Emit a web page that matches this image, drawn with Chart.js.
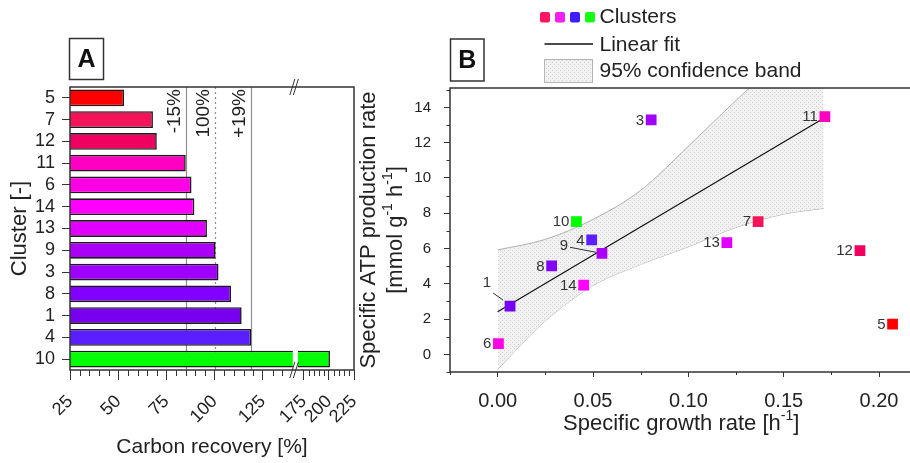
<!DOCTYPE html>
<html>
<head>
<meta charset="utf-8">
<script src="https://cdn.jsdelivr.net/npm/chart.js@4.4.0/dist/chart.umd.min.js"></script>
<style>
  html, body { margin: 0; padding: 0; background: #fff; overflow: hidden; }
  #wrap { position: relative; width: 910px; height: 463px; overflow: hidden; }
  #recoveryChart { position: absolute; left: 0; top: 0; }
  #atpChart { position: absolute; left: 350px; top: 0; }
</style>
</head>
<body>
<div id="wrap">
  <canvas id="recoveryChart" width="370" height="463"></canvas>
  <canvas id="atpChart" width="570" height="463"></canvas>
</div>
<script>
const FONT = "'Liberation Sans', Arial, sans-serif";
Chart.defaults.font.family = FONT;
Chart.defaults.color = '#222';

// --- panel A: carbon recovery per cluster, top to bottom
const recoveryClusters = ['5', '7', '12', '11', '6', '14', '13', '9', '3', '8', '1', '4', '10'];
const carbonRecovery = [53, 68, 70, 85, 88, 89.5, 96, 100.5, 102, 108.5, 114, 119, 201];
const recoveryTicks = [25, 50, 75, 100, 125, 175, 200, 225];
const refLines = [85, 100, 119];
const refLabels = ['-15%', '100%', '+19%'];

// --- panel B: ATP production vs growth rate
const pointClusters = ['1', '3', '4', '5', '6', '7', '8', '9', '10', '11', '12', '13', '14'];
const growthRate = [0.0065, 0.0805, 0.0493, 0.2071, 0.0004, 0.1366, 0.0283, 0.0547, 0.0413, 0.1716, 0.190, 0.1202, 0.0451];
const atpRate = [2.74, 13.29, 6.49, 1.71, 0.61, 7.52, 5.01, 5.73, 7.52, 13.48, 5.88, 6.33, 3.93];
const fitGrowth = [0, 0.171];
const fitAtp = [2.42, 13.38];
const bandGrowth = [0, 0.025, 0.05, 0.075, 0.1, 0.125, 0.15, 0.171];
const bandUpper = [5.92, 6.52, 7.65, 9.3, 11.8, 14.4, 16.9, 19.0];
const bandLower = [-0.85, 1.9, 3.9, 5.1, 6.1, 7.2, 7.95, 8.28];
const growthTicks = [0, 0.05, 0.1, 0.15, 0.2];
const atpTicks = [0, 2, 4, 6, 8, 10, 12, 14];

const clusterColours = {
  '5': '#ff0000', '7': '#f5145a', '12': '#f0005f', '11': '#ff00c3', '6': '#ff00e6',
  '14': '#ff00ff', '13': '#e100ff', '9': '#aa00f5', '3': '#a000ff', '8': '#8200ff',
  '1': '#7800f0', '4': '#5a1eff', '10': '#00ff00'
};
const legendSwatches = ['#ff1464', '#f01ef0', '#3c1eff', '#14ff14'];

// linear axis with a cut between `from` and `to`
class GapLinearScale extends Chart.LinearScale {
  static id = 'gapLinear';
  static defaults = {};
  fraction(v) {
    const g = this.options.gap;
    if (v <= g.from) return (v - this.min) / (g.from - this.min) * g.fromFrac;
    if (v >= g.to) return g.toFrac + (v - g.to) / (this.max - g.to) * (1 - g.toFrac);
    return g.fromFrac + (v - g.from) / (g.to - g.from) * (g.toFrac - g.fromFrac);
  }
  getPixelForValue(v) {
    return v === null ? NaN : this.getPixelForDecimal(this.fraction(v));
  }
  getValueForPixel(p) {
    const g = this.options.gap;
    const f = this.getDecimalForPixel(p);
    if (f <= g.fromFrac) return this.min + f / g.fromFrac * (g.from - this.min);
    if (f >= g.toFrac) return g.to + (f - g.toFrac) / (1 - g.toFrac) * (this.max - g.to);
    return g.from + (f - g.fromFrac) / (g.toFrac - g.fromFrac) * (g.to - g.from);
  }
}
Chart.register(GapLinearScale);

function minorTicks(ctx, scale, values, len) {
  ctx.save();
  ctx.strokeStyle = '#333';
  ctx.lineWidth = 1;
  values.forEach(v => {
    const p = Math.round(scale.getPixelForValue(v)) + 0.5;
    ctx.beginPath();
    if (scale.isHorizontal()) { ctx.moveTo(p, scale.top); ctx.lineTo(p, scale.top + len); }
    else { ctx.moveTo(scale.right, p); ctx.lineTo(scale.right - len, p); }
    ctx.stroke();
  });
  ctx.restore();
}

function letterBox(ctx, letter, x, y, w, h) {
  ctx.save();
  ctx.strokeStyle = '#333';
  ctx.lineWidth = 1.5;
  ctx.strokeRect(x, y, w, h);
  ctx.fillStyle = '#111';
  ctx.font = `bold 25px ${FONT}`;
  ctx.textAlign = 'center';
  ctx.textBaseline = 'middle';
  ctx.fillText(letter, x + w / 2, y + h / 2 + 1);
  ctx.restore();
}

// text with superscript pieces, e.g. h^-1
function richText(ctx, parts, x, y, size) {
  const big = `${size}px ${FONT}`, small = `${Math.round(size * 0.62)}px ${FONT}`;
  let total = 0;
  parts.forEach(p => { ctx.font = p.sup ? small : big; total += ctx.measureText(p.text).width; });
  let cx = x - total / 2;
  ctx.textAlign = 'left';
  ctx.textBaseline = 'middle';
  parts.forEach(p => {
    ctx.font = p.sup ? small : big;
    ctx.fillText(p.text, cx, p.sup ? y - size * 0.36 : y);
    cx += ctx.measureText(p.text).width;
  });
}

function stipple(ctx) {
  const c = document.createElement('canvas');
  c.width = c.height = 4;
  const g = c.getContext('2d');
  g.fillStyle = '#f1f1f1';
  g.fillRect(0, 0, 4, 4);
  g.fillStyle = '#d2d2d2';
  g.fillRect(0, 0, 1, 1);
  g.fillRect(2, 2, 1, 1);
  return ctx.createPattern(c, 'repeat');
}

// ---------- panel A ----------
const recoveryGap = { from: 140, to: 170, fromFrac: 0.781, toFrac: 0.806 };
const refDash = [[], [2, 3], []];

const recoveryDecor = {
  id: 'recoveryDecor',
  beforeDatasetsDraw(chart) {
    const { ctx, chartArea: a, scales: { x } } = chart;
    ctx.save();
    refLines.forEach((v, i) => {
      const px = Math.round(x.getPixelForValue(v)) + 0.5;
      ctx.strokeStyle = '#8e8e8e';
      ctx.lineWidth = 1.2;
      ctx.setLineDash(refDash[i]);
      ctx.beginPath();
      ctx.moveTo(px, a.top);
      ctx.lineTo(px, a.bottom);
      ctx.stroke();
      ctx.setLineDash([]);
      ctx.save();
      ctx.translate(px - 12, a.top + 2);
      ctx.rotate(-Math.PI / 2);
      ctx.fillStyle = '#222';
      ctx.font = `19px ${FONT}`;
      ctx.textAlign = 'right';
      ctx.textBaseline = 'middle';
      ctx.fillText(refLabels[i], 0, 0);
      ctx.restore();
    });
    ctx.restore();
  },
  afterDatasetsDraw(chart) {
    const { ctx, chartArea: a, scales: { x } } = chart;
    const g0 = x.getPixelForValue(recoveryGap.from), g1 = x.getPixelForValue(recoveryGap.to);
    const gx = (g0 + g1) / 2;
    ctx.save();
    // cut through bars that cross the axis break
    chart.getDatasetMeta(0).data.forEach((bar, i) => {
      if (carbonRecovery[i] > recoveryGap.from) {
        ctx.fillStyle = '#fff';
        ctx.fillRect(g0 + 1, bar.y - bar.height / 2 - 1, g1 - g0 - 2, bar.height + 2);
      }
    });
    ctx.strokeStyle = '#333';
    ctx.lineWidth = 1.5;
    ctx.strokeRect(a.left, a.top, a.width, a.height);
    // break marks
    ctx.lineWidth = 1;
    [a.top, a.bottom].forEach(yy => {
      [-3, 0.5].forEach(d => {
        ctx.beginPath();
        ctx.moveTo(gx + d - 2.5, yy + 8);
        ctx.lineTo(gx + d + 2.5, yy - 8);
        ctx.stroke();
      });
    });
    ctx.restore();
    const minor = [];
    for (let v = 30; v < 225; v += 5) {
      if (recoveryTicks.includes(v)) continue;
      if (v >= recoveryGap.from && v <= recoveryGap.to) continue;
      minor.push(v);
    }
    minorTicks(ctx, x, minor, 6);
  },
  afterDraw(chart) {
    letterBox(chart.ctx, 'A', 69.5, 38.5, 34, 41);
  }
};

new Chart(document.getElementById('recoveryChart'), {
  type: 'bar',
  data: {
    labels: recoveryClusters,
    datasets: [{
      data: carbonRecovery,
      backgroundColor: recoveryClusters.map(c => clusterColours[c]),
      borderColor: '#1a1a1a',
      borderWidth: 1.6,
      borderSkipped: false,
      barPercentage: 0.77,
      categoryPercentage: 1
    }]
  },
  options: {
    indexAxis: 'y',
    responsive: false,
    animation: false,
    layout: { padding: { top: 87, right: 16, left: 0, bottom: 0 } },
    plugins: { legend: { display: false }, tooltip: { enabled: false } },
    scales: {
      x: {
        type: 'gapLinear',
        min: 25,
        max: 225,
        gap: recoveryGap,
        afterFit: s => { s.height = 93; s.paddingLeft = 0; s.paddingRight = 0; },
        afterBuildTicks: s => { s.ticks = recoveryTicks.map(v => ({ value: v })); },
        ticks: { autoSkip: false, minRotation: 45, maxRotation: 45, padding: 11, font: { size: 18 }, color: '#222' },
        grid: { drawOnChartArea: false, tickLength: 10, tickColor: '#333', tickWidth: 1 },
        border: { display: false },
        title: { display: true, text: 'Carbon recovery [%]', font: { size: 21 }, color: '#222', padding: { top: 0, bottom: 3 } }
      },
      y: {
        afterFit: s => { s.width = 70; s.paddingTop = 0; s.paddingBottom = 0; },
        ticks: { autoSkip: false, padding: 7, font: { size: 18 }, color: '#222' },
        grid: { drawOnChartArea: false, offset: false, tickLength: 8, tickColor: '#333' },
        border: { display: false },
        title: { display: true, text: 'Cluster [-]', font: { size: 22 }, color: '#222', padding: { top: 7, bottom: 0 } }
      }
    }
  },
  plugins: [recoveryDecor]
});

// ---------- panel B ----------
const atpCanvas = document.getElementById('atpChart');
const bandFill = stipple(atpCanvas.getContext('2d'));
const labelNudges = {
  '9': { dx: -34, dy: -7, leader: [-32, -6, -6, -1] },
  '1': { dx: -19, dy: -23, leader: [-17, -13, -7, -6] }
};

const atpDecor = {
  id: 'atpDecor',
  afterDraw(chart) {
    const { ctx, chartArea: a, scales: { x, y } } = chart;
    ctx.save();
    ctx.strokeStyle = '#333';
    ctx.lineWidth = 1.5;
    ctx.strokeRect(a.left, a.top, a.width, a.height);
    ctx.restore();
    minorTicks(ctx, x, [-0.025, 0.025, 0.075, 0.125, 0.175], 3);
    minorTicks(ctx, y, [-1, 1, 3, 5, 7, 9, 11, 13, 15], 3.5);

    // cluster numbers beside the markers
    ctx.save();
    ctx.fillStyle = '#333';
    ctx.strokeStyle = '#333';
    ctx.lineWidth = 1;
    ctx.font = `15px ${FONT}`;
    ctx.textAlign = 'right';
    ctx.textBaseline = 'middle';
    chart.getDatasetMeta(0).data.forEach((pt, i) => {
      const id = pointClusters[i];
      const n = labelNudges[id];
      if (n) {
        ctx.fillText(id, pt.x + n.dx, pt.y + n.dy);
        ctx.beginPath();
        ctx.moveTo(pt.x + n.leader[0], pt.y + n.leader[1]);
        ctx.lineTo(pt.x + n.leader[2], pt.y + n.leader[3]);
        ctx.stroke();
      } else {
        ctx.fillText(id, pt.x - 7, pt.y + 0.5);
      }
    });
    ctx.restore();

    // axis titles
    ctx.save();
    ctx.fillStyle = '#222';
    richText(ctx, [{ text: 'Specific growth rate [h' }, { text: '-1', sup: true }, { text: ']' }], (a.left + a.right) / 2, 424, 22);
    const cy = (a.top + a.bottom) / 2;
    ctx.translate(19, cy);
    ctx.rotate(-Math.PI / 2);
    richText(ctx, [{ text: 'Specific ATP production rate' }], 0, 0, 22);
    richText(ctx, [{ text: '[mmol g' }, { text: '-1', sup: true }, { text: ' h' }, { text: '-1', sup: true }, { text: ']' }], 0, 27, 22);
    ctx.restore();

    // legend
    ctx.save();
    legendSwatches.forEach((c, i) => {
      ctx.fillStyle = c;
      ctx.beginPath();
      ctx.roundRect(190 + i * 15, 12, 10, 10.5, 2);
      ctx.fill();
    });
    ctx.strokeStyle = '#111';
    ctx.lineWidth = 1.3;
    ctx.beginPath();
    ctx.moveTo(194.5, 44);
    ctx.lineTo(243, 44);
    ctx.stroke();
    ctx.fillStyle = bandFill;
    ctx.fillRect(194, 59, 48, 23);
    ctx.strokeStyle = '#b4b4b4';
    ctx.lineWidth = 1;
    ctx.strokeRect(194.5, 59.5, 48, 23);
    ctx.fillStyle = '#222';
    ctx.font = `21px ${FONT}`;
    ctx.textAlign = 'left';
    ctx.textBaseline = 'middle';
    ctx.fillText('Clusters', 249.5, 17);
    ctx.fillText('Linear fit', 249.5, 45);
    ctx.fillText('95% confidence band', 249.5, 71);
    ctx.restore();

    letterBox(ctx, 'B', 100.5, 39, 33.5, 42);
  }
};

const xy = (xs, ys) => xs.map((v, i) => ({ x: v, y: ys[i] }));

new Chart(atpCanvas, {
  type: 'scatter',
  data: {
    datasets: [
      {
        label: 'Clusters',
        data: xy(growthRate, atpRate),
        pointStyle: 'rect',
        pointRadius: 7.6,
        pointHoverRadius: 7.6,
        pointBackgroundColor: pointClusters.map(c => clusterColours[c]),
        pointBorderWidth: 0,
        order: 0
      },
      {
        type: 'line',
        label: 'Linear fit',
        data: xy(fitGrowth, fitAtp),
        borderColor: '#111',
        borderWidth: 1.2,
        pointRadius: 0,
        fill: false,
        order: 1
      },
      {
        type: 'line',
        label: '95% upper',
        data: xy(bandGrowth, bandUpper),
        borderColor: '#b0b0b0',
        borderWidth: 1,
        pointRadius: 0,
        cubicInterpolationMode: 'monotone',
        fill: '+1',
        backgroundColor: bandFill,
        order: 2
      },
      {
        type: 'line',
        label: '95% lower',
        data: xy(bandGrowth, bandLower),
        borderColor: '#b0b0b0',
        borderWidth: 1,
        pointRadius: 0,
        cubicInterpolationMode: 'monotone',
        fill: false,
        order: 3
      }
    ]
  },
  options: {
    responsive: false,
    animation: false,
    layout: { padding: { top: 88, right: 6, left: 0, bottom: 0 } },
    plugins: { legend: { display: false }, tooltip: { enabled: false } },
    scales: {
      x: {
        type: 'linear',
        min: -0.025,
        max: 0.2175,
        afterFit: s => { s.height = 91; s.paddingLeft = 0; s.paddingRight = 0; },
        afterBuildTicks: s => { s.ticks = growthTicks.map(v => ({ value: v })); },
        ticks: { autoSkip: false, maxRotation: 0, padding: 12, font: { size: 20 }, color: '#222', callback: v => v.toFixed(2) },
        grid: { drawOnChartArea: false, tickLength: 5, tickColor: '#333' },
        border: { display: false }
      },
      y: {
        type: 'linear',
        min: -1,
        max: 15.1,
        afterFit: s => { s.width = 100; s.paddingTop = 0; s.paddingBottom = 0; },
        afterBuildTicks: s => { s.ticks = atpTicks.map(v => ({ value: v })); },
        ticks: { autoSkip: false, padding: 13, font: { size: 15 }, color: '#222' },
        grid: { drawOnChartArea: false, tickLength: 6, tickColor: '#333' },
        border: { display: false }
      }
    }
  },
  plugins: [atpDecor]
});
</script>
</body>
</html>
